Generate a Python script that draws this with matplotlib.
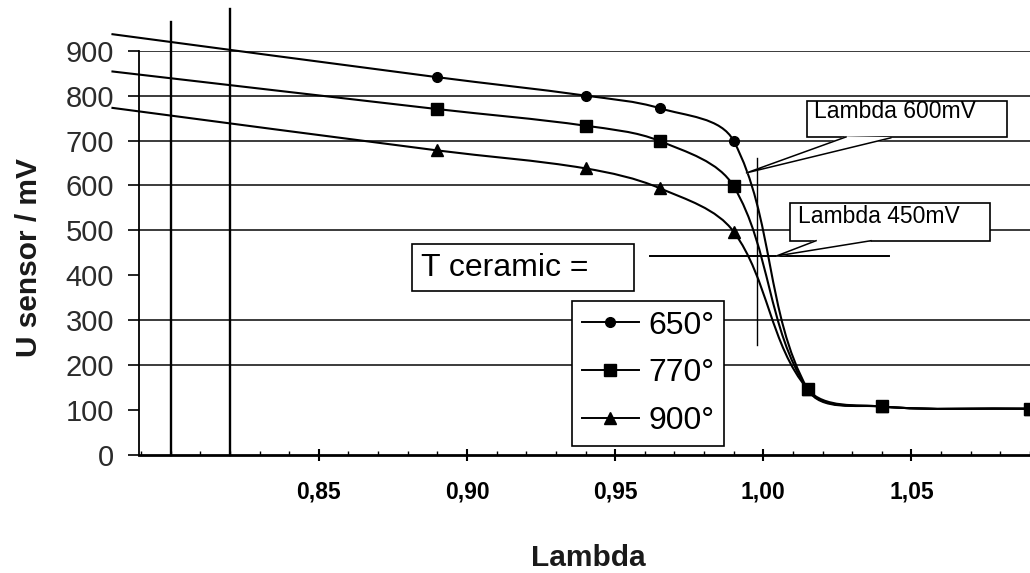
import numpy as np
import matplotlib
matplotlib.use("Agg")
import matplotlib.pyplot as plt
from matplotlib.path import Path
from matplotlib.patches import PathPatch, Rectangle
from matplotlib.lines import Line2D

plt.rcParams['font.family'] = ['Liberation Sans', 'DejaVu Sans']

# data
LAMBDA = [0.78, 0.89, 0.94, 0.965, 0.99, 1.015, 1.04, 1.09]
U_650 = [937, 841, 800, 772, 699, 146, 108, 103]
U_770 = [854, 770, 733, 699, 598, 146, 108, 103]
U_900 = [773, 678, 638, 594, 497, 146, 108, 103]
SERIES_LABELS = ['650°', '770°', '900°']
SERIES_MARKERS = ['o', 's', '^']

X_TICKS = [0.85, 0.90, 0.95, 1.00, 1.05]
X_TICK_LABELS = ['0,85', '0,90', '0,95', '1,00', '1,05']
Y_TICKS = list(range(0, 1000, 100))
GRID_LEVELS = [200, 300, 500, 600, 700, 800, 900]

# vertical reference lines at lambda 0.80 / 0.82 (they run above the frame)
VLINE_X = [0.80, 0.82]
VLINE_TOP = [965, 993]


def smooth_path(ax, xs, ys):
    """Bezier curve through the points (tangent handles scaled per segment,
    worked out in screen space so the steep drop does not overshoot)"""
    pts = ax.transData.transform(np.column_stack([xs, ys]).astype(float))
    n = len(pts)
    tang = []
    for i in range(n):
        d = pts[min(i + 1, n - 1)] - pts[max(i - 1, 0)]
        tang.append(d / np.hypot(*d))
    verts = [pts[0]]
    codes = [Path.MOVETO]
    for i in range(n - 1):
        seg = np.hypot(*(pts[i + 1] - pts[i])) / 3
        verts += [pts[i] + tang[i] * seg, pts[i + 1] - tang[i + 1] * seg, pts[i + 1]]
        codes += [Path.CURVE4] * 3
    verts = ax.transData.inverted().transform(np.array(verts))
    return Path(verts, codes)


fig = plt.figure(figsize=(10.3, 5.73), dpi=100)
W, H = 1030, 573
ax = fig.add_axes([139 / W, 118 / H, 891 / W, 404.3 / H])
ax.set_xlim(0.7893, 1.0883)
ax.set_ylim(0, 900)

for s in ['top', 'right']:
    ax.spines[s].set_visible(False)
ax.spines['left'].set_linewidth(1.3)
ax.spines['bottom'].set_linewidth(2.0)

for lvl in GRID_LEVELS:
    ax.axhline(lvl, color='#1a1a1a', lw=1.2, zorder=1)

for xv, top in zip(VLINE_X, VLINE_TOP):
    ax.plot([xv, xv], [0, top], color='black', lw=1.7, clip_on=False, zorder=2)

ax.set_yticks(Y_TICKS)
ax.tick_params(axis='y', direction='out', length=8, width=1.2, pad=10,
               labelsize=21, labelcolor='#2b2b2b')
ax.set_xticks(X_TICKS)
ax.set_xticklabels(X_TICK_LABELS, fontweight='bold')
ax.set_xticks(np.arange(0.79, 1.09, 0.01), minor=True)
ax.tick_params(axis='x', which='major', direction='inout', length=9, width=1.5,
               pad=14, labelsize=16.5)
ax.tick_params(axis='x', which='minor', direction='in', length=3, width=1)

all_series = [U_650, U_770, U_900]
zorders = [3, 5, 4]
handles = []
for vals, lab, mk, z in zip(all_series, SERIES_LABELS, SERIES_MARKERS, zorders):
    ax.add_patch(PathPatch(smooth_path(ax, LAMBDA, vals), fill=False, ec='black',
                           lw=1.5, clip_on=False, zorder=z))
    ms = 7 if mk == 'o' else 8
    ax.plot(LAMBDA[1:], vals[1:], ls='none', marker=mk, ms=ms, color='black',
            clip_on=False, zorder=z + 0.5)
    handles.append(Line2D([], [], color='black', lw=1.4, marker=mk, ms=ms))

leg = ax.legend(handles, SERIES_LABELS, loc='upper left',
                bbox_to_anchor=(572 / W, 1 - 301 / H), bbox_transform=fig.transFigure,
                fancybox=False, framealpha=1, edgecolor='black', fontsize=23,
                handlelength=1.8, handletextpad=0.3, borderpad=0.3,
                labelspacing=0.56, borderaxespad=0)
leg.get_frame().set_linewidth(1.2)
leg.set_zorder(8)

# "T ceramic =" box
ax.add_patch(Rectangle((0.8816, 365), 0.0748, 105, fc='white', ec='black', lw=1.2,
                       clip_on=False, zorder=7))
ax.text(0.8846, 417, 'T ceramic =', fontsize=23, va='center', ha='left', zorder=8)

# 450 mV level and lambda marker line
ax.plot([0.9618, 1.0423], [443, 443], color='black', lw=1.4, zorder=6)
ax.plot([0.9979, 0.9979], [245, 662], color='black', lw=1.0, zorder=6)

# callout boxes
callouts = [
    ('Lambda 600mV', (1.0148, 707, 0.0674, 81), (1.0170, 764),
     [(1.0279, 708), (0.9943, 628), (1.0430, 706)]),
    ('Lambda 450mV', (1.0091, 477, 0.0674, 85), (1.0116, 531),
     [(1.0178, 477), (1.0044, 443), (1.0363, 477)]),
]
for txt, (bx, by, bw, bh), (tx, ty), wedge in callouts:
    ax.add_patch(Rectangle((bx, by), bw, bh, fc='white', ec='black', lw=1.2,
                           clip_on=False, zorder=7))
    ax.text(tx, ty, txt, fontsize=16.5, va='center', ha='left', zorder=8)
    wx, wy = zip(*wedge)
    ax.fill(wx, wy, color='white', zorder=7)
    ax.plot(wx, wy, color='black', lw=1.1, zorder=7)

fig.text(37 / W, 1 - 258 / H, 'U sensor / mV', rotation=90, rotation_mode='anchor',
         ha='center', va='baseline', fontsize=21.5, fontweight='bold', color='#1a1a1a')
fig.text(588 / W, 1 - 566 / H, 'Lambda', ha='center', va='baseline',
         fontsize=21.5, fontweight='bold', color='#1a1a1a')

fig.savefig('out.png', dpi=100)
